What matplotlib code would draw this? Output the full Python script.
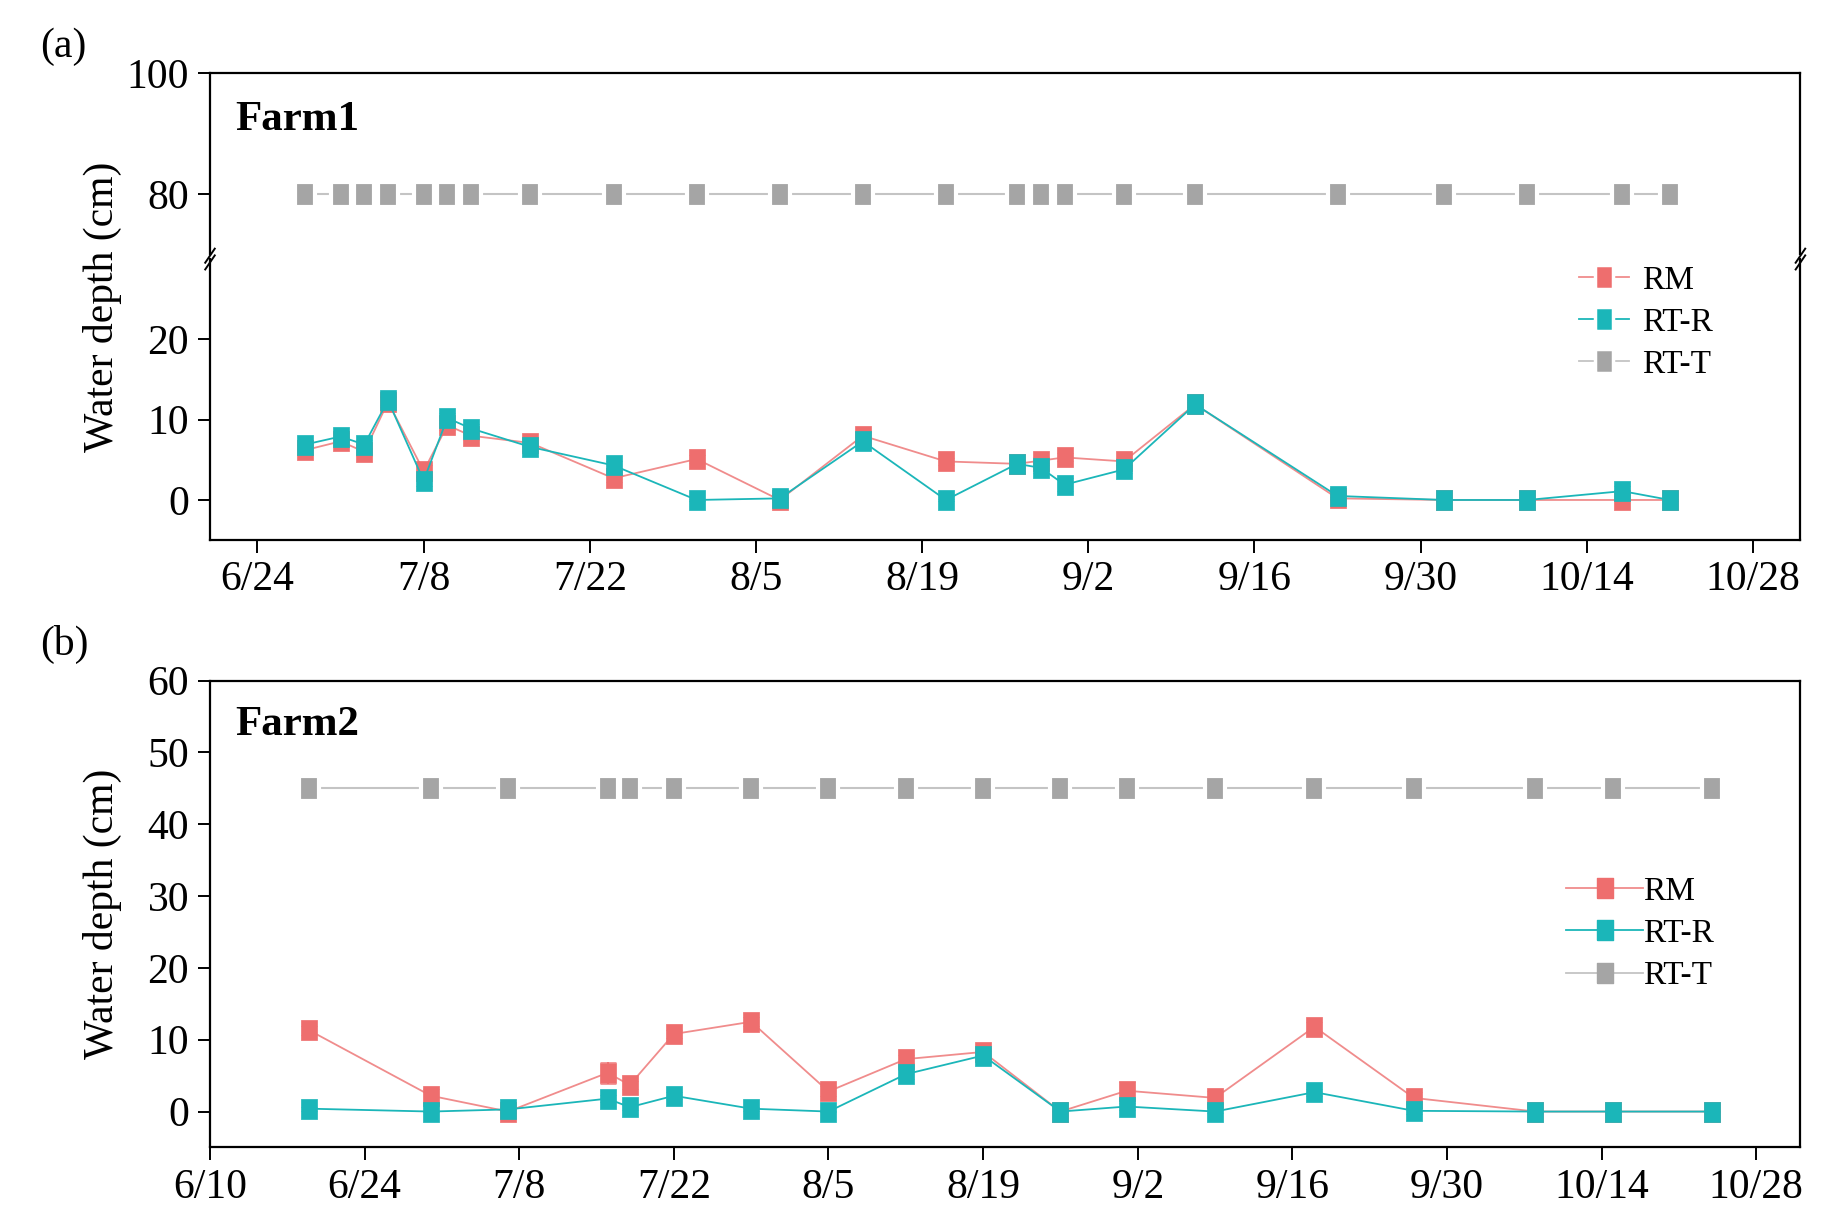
import datetime as dt
import matplotlib
matplotlib.use("Agg")
import matplotlib.pyplot as plt
import matplotlib.dates as mdates
from matplotlib.lines import Line2D

plt.rcParams['font.family'] = ['Liberation Serif', 'DejaVu Serif']

YEAR = 2021

# ---- Farm1 data ----
f1_dates = ["6/28", "7/1", "7/3", "7/5", "7/8", "7/10", "7/12", "7/17", "7/24", "7/31",
            "8/7", "8/14", "8/21", "8/27", "8/29", "8/31", "9/5", "9/11", "9/23", "10/2",
            "10/9", "10/17", "10/21"]
f1_rm = [6.2, 7.3, 6.0, 12.2, 3.6, 9.3, 8.0, 7.1, 2.7, 5.1, 0.0, 8.0, 4.8, 4.5, 4.9, 5.3,
         4.8, 11.9, 0.2, 0.0, 0.0, 0.0, 0.0]
f1_rm_err = [0.6, 0.5, 0.5, 0.6, 0.8, 0.6, 0.5, 0.5, 0.5, 0.5, 0.3, 0.5, 0.4, 0.4, 0.5, 0.5,
             0.4, 0.3, 0.2, 0.1, 0.1, 0.1, 0.1]
f1_rtr = [6.9, 7.9, 6.9, 12.4, 2.4, 10.2, 8.9, 6.6, 4.3, 0.0, 0.2, 7.3, 0.0, 4.5, 4.0, 1.9,
          3.8, 11.9, 0.5, 0.0, 0.0, 1.1, 0.0]
f1_rtr_err = [0.6, 0.5, 0.6, 0.6, 0.7, 0.6, 0.5, 0.5, 0.6, 0.1, 0.2, 0.5, 0.1, 0.5, 0.6, 0.8,
              0.5, 0.3, 0.4, 0.1, 0.1, 0.6, 0.1]
f1_rtt = [80] * len(f1_dates)
f1_ticks = ["6/24", "7/8", "7/22", "8/5", "8/19", "9/2", "9/16", "9/30", "10/14", "10/28"]

# ---- Farm2 data ----
f2_dates = ["6/19", "6/30", "7/7", "7/16", "7/18", "7/22", "7/29", "8/5", "8/12", "8/19",
            "8/26", "9/1", "9/9", "9/18", "9/27", "10/8", "10/15", "10/24"]
f2_rm = [11.3, 2.2, 0.0, 5.4, 3.7, 10.8, 12.5, 2.8, 7.3, 8.3, 0.0, 2.9, 1.9, 11.8, 1.9,
         0.0, 0.0, 0.0]
f2_rm_err = [0.6, 1.0, 0.2, 1.5, 0.5, 0.5, 0.6, 0.7, 0.6, 0.5, 0.1, 1.2, 0.9, 0.6, 0.8,
             0.1, 0.1, 0.1]
f2_rtr = [0.4, 0.0, 0.3, 1.8, 0.6, 2.2, 0.4, 0.0, 5.2, 7.8, 0.0, 0.7, 0.0, 2.7, 0.1,
          0.0, 0.0, 0.0]
f2_rtr_err = [0.3, 0.1, 0.4, 0.5, 0.4, 0.5, 0.3, 0.1, 0.6, 0.7, 0.1, 0.5, 0.2, 0.5, 0.4,
              0.1, 0.1, 0.1]
f2_rtt = [45] * len(f2_dates)
f2_ticks = ["6/10", "6/24", "7/8", "7/22", "8/5", "8/19", "9/2", "9/16", "9/30", "10/14", "10/28"]

C_RM = "#EE6E6E"
C_RM_LINE = "#F08C8C"
C_RTR = "#1BB6B9"
C_RTT = "#A5A5A5"
C_RTT_LINE = "#C4C4C4"
MS = 15
# slightly tall square marker, like in the original figure
MK = [(-0.4, -0.5), (0.4, -0.5), (0.4, 0.5), (-0.4, 0.5), (-0.4, -0.5)]


def to_dates(lst):
    out = []
    for s in lst:
        m, d = s.split("/")
        out.append(dt.datetime(YEAR, int(m), int(d)))
    return out


def fmt_date(x, pos=None):
    d = mdates.num2date(x)
    return f"{d.month}/{d.day}"


def style_ax(ax):
    for sp in ax.spines.values():
        sp.set_linewidth(1.6)
    ax.tick_params(axis="both", which="major", direction="out", length=9, width=1.4,
                   labelsize=30, pad=6)


def plot_series(ax, x, y, err, c, lc):
    ax.errorbar(x, y, yerr=err, color=lc, lw=1.3, marker=MK, ms=MS, mfc=c, mec=c, mew=0.5,
                ecolor=c, elinewidth=1.2, capsize=6, capthick=1.2, zorder=3)


def plot_rtt(ax, x, y):
    ax.plot(x, y, color=C_RTT_LINE, lw=1.5, marker=MK, ms=MS + 3, mfc=C_RTT,
            mec="white", mew=3, zorder=3)


fig = plt.figure(figsize=(18.26, 12.22), dpi=100)

L, W = 0.115, 0.871

# ---------- panel (a) with broken y axis ----------
ax_top = fig.add_axes([L, 0.792, W, 0.148])
ax_bot = fig.add_axes([L, 0.558, W, 0.230])

x1 = to_dates(f1_dates)
plot_rtt(ax_top, x1, f1_rtt)
plot_series(ax_bot, x1, f1_rm, f1_rm_err, C_RM, C_RM_LINE)
plot_series(ax_bot, x1, f1_rtr, f1_rtr_err, C_RTR, C_RTR)

xlim1 = to_dates(["6/20", "11/1"])
for ax in (ax_top, ax_bot):
    ax.set_xlim(xlim1)
    style_ax(ax)
ax_top.set_ylim(70, 100)
ax_top.set_yticks([80, 100])
ax_bot.set_ylim(-5, 30)
ax_bot.set_yticks([0, 10, 20])
ax_top.spines["bottom"].set_visible(False)
ax_bot.spines["top"].set_visible(False)
ax_top.tick_params(axis="x", bottom=False, labelbottom=False)
ax_bot.set_xticks(to_dates(f1_ticks))
ax_bot.xaxis.set_major_formatter(plt.FuncFormatter(fmt_date))

# break marks
for xs in (0, 1):
    for off in (-0.012, 0.012):
        ax_bot.plot([xs - 0.003, xs + 0.003], [1.0 + off - 0.025, 1.0 + off + 0.025],
                    transform=ax_bot.transAxes, color="black", lw=1.4, clip_on=False, zorder=5)

ax_top.text(0.016, 0.74, "Farm1", transform=ax_top.transAxes, fontsize=31,
            fontweight="bold", va="center", ha="left")

h_a = [Line2D([], [], color=C_RM_LINE, lw=1.3, marker=MK, ms=MS + 2, mfc=C_RM, mec="white", mew=2.5),
       Line2D([], [], color=C_RTR, lw=1.3, marker=MK, ms=MS + 2, mfc=C_RTR, mec="white", mew=2.5),
       Line2D([], [], color=C_RTT_LINE, lw=1.3, marker=MK, ms=MS + 2, mfc=C_RTT, mec="white", mew=2.5)]
ax_bot.legend(h_a, ["RM", "RT-R", "RT-T"], loc="upper left", bbox_to_anchor=(0.842, 1.085),
              frameon=False, fontsize=24, handlelength=1.5, handletextpad=0.4,
              labelspacing=0.35)

# ---------- panel (b) ----------
ax_b = fig.add_axes([L, 0.061, W, 0.382])
x2 = to_dates(f2_dates)
plot_rtt(ax_b, x2, f2_rtt)
plot_series(ax_b, x2, f2_rm, f2_rm_err, C_RM, C_RM_LINE)
plot_series(ax_b, x2, f2_rtr, f2_rtr_err, C_RTR, C_RTR)
ax_b.set_xlim(to_dates(["6/10", "11/1"]))
ax_b.set_ylim(-5, 60)
ax_b.set_yticks([0, 10, 20, 30, 40, 50, 60])
ax_b.set_xticks(to_dates(f2_ticks))
ax_b.xaxis.set_major_formatter(plt.FuncFormatter(fmt_date))
style_ax(ax_b)
ax_b.text(0.016, 0.905, "Farm2", transform=ax_b.transAxes, fontsize=31,
          fontweight="bold", va="center", ha="left")

h_b = [Line2D([], [], color=C_RM_LINE, lw=1.3, marker=MK, ms=MS, mfc=C_RM, mec=C_RM),
       Line2D([], [], color=C_RTR, lw=1.3, marker=MK, ms=MS, mfc=C_RTR, mec=C_RTR),
       Line2D([], [], color=C_RTT_LINE, lw=1.3, marker=MK, ms=MS, mfc=C_RTT, mec=C_RTT)]
ax_b.legend(h_b, ["RM", "RT-R", "RT-T"], loc="upper left", bbox_to_anchor=(0.834, 0.645),
            frameon=False, fontsize=24, handlelength=2.3, handletextpad=0.0,
            labelspacing=0.35)

# labels
fig.text(0.056, 0.749, "Water depth (cm)", rotation=90, fontsize=30, ha="center", va="center")
fig.text(0.056, 0.252, "Water depth (cm)", rotation=90, fontsize=30, ha="center", va="center")
fig.text(0.022, 0.962, "(a)", fontsize=30, ha="left", va="center")
fig.text(0.022, 0.473, "(b)", fontsize=30, ha="left", va="center")

fig.savefig("out.png", dpi=100)
